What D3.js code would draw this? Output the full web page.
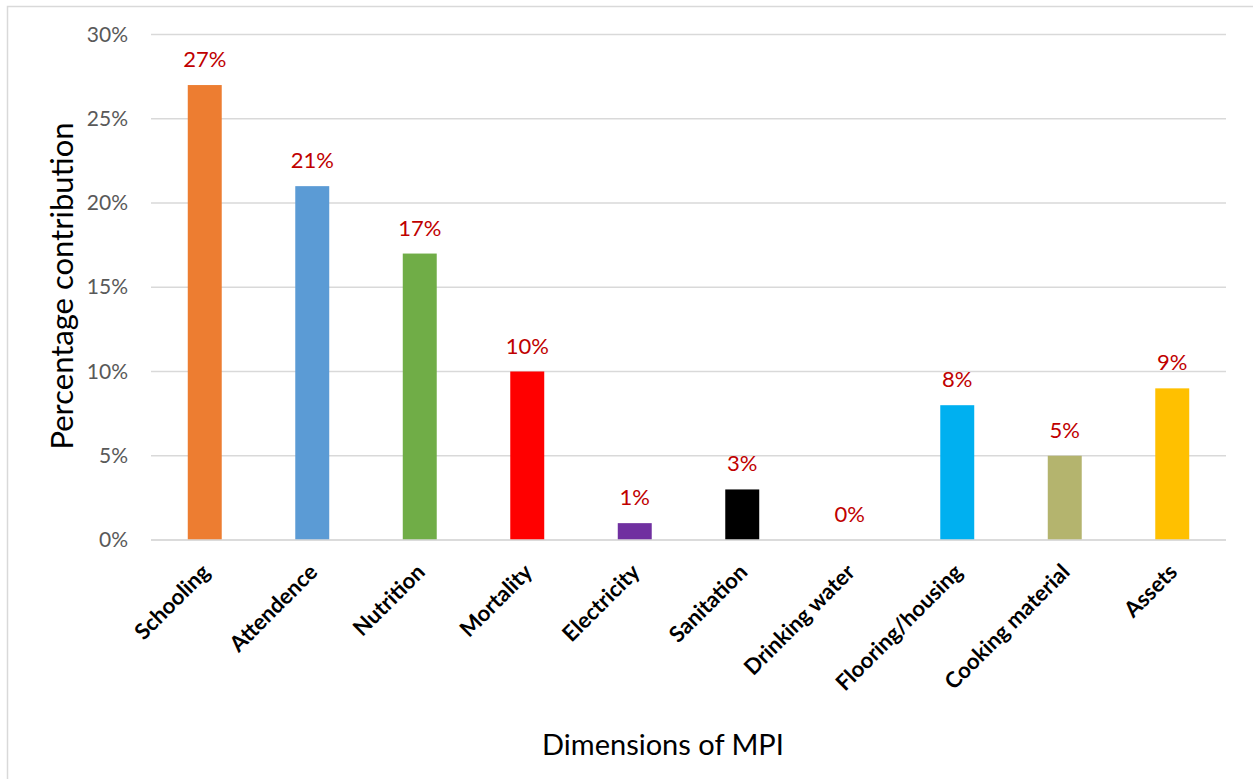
<!DOCTYPE html>
<html>
<head>
<meta charset="utf-8">
<script src="https://cdn.jsdelivr.net/npm/d3@7"></script>
<style>
  html, body { margin: 0; padding: 0; background: #fff; }
  svg { display: block; }
</style>
</head>
<body>
<svg id="chart" width="1253" height="779"></svg>
<script>
// MPI dimensions and their percentage contribution
const categories = ["Schooling", "Attendence", "Nutrition", "Mortality", "Electricity",
  "Sanitation", "Drinking water", "Flooring/housing", "Cooking material", "Assets"];
const values = [27, 21, 17, 10, 1, 3, 0, 8, 5, 9];
const barColors = ["#ED7D31", "#5B9BD5", "#70AD47", "#FF0000", "#7030A0",
  "#000000", "#4472C4", "#00B0F0", "#B4B46E", "#FFC000"];
const yTicks = [0, 5, 10, 15, 20, 25, 30];

const font = "Lato, 'Open Sans', sans-serif";
const svg = d3.select("#chart");

// frame around the chart
svg.append("rect")
  .attr("x", 7.5).attr("y", 6.5)
  .attr("width", 1260).attr("height", 800)
  .attr("fill", "none").attr("stroke", "#D9D9D9").attr("stroke-width", 1.5);

const plot = { left: 151, right: 1226, top: 34.5, bottom: 540 };

const x = d3.scaleBand()
  .domain(categories)
  .range([plot.left, plot.right])
  .paddingInner(0.684)
  .paddingOuter(0.342);

const y = d3.scaleLinear()
  .domain([0, 30])
  .range([plot.bottom, plot.top]);

// horizontal gridlines
svg.append("g")
  .selectAll("line")
  .data(yTicks)
  .join("line")
  .attr("x1", plot.left).attr("x2", plot.right)
  .attr("y1", d => y(d)).attr("y2", d => y(d))
  .attr("stroke", "#D9D9D9").attr("stroke-width", 1.5);

// y axis tick labels
const yAxis = svg.append("g")
  .attr("transform", `translate(${plot.left},0)`)
  .call(d3.axisLeft(y).tickValues(yTicks).tickSize(0).tickPadding(23)
    .tickFormat(d => d + "%"));
yAxis.select(".domain").remove();
yAxis.selectAll("text")
  .attr("font-family", font).attr("font-size", 21)
  .attr("fill", "#595959");

// bars
svg.append("g")
  .selectAll("rect")
  .data(categories)
  .join("rect")
  .attr("x", d => x(d))
  .attr("y", (d, i) => y(values[i]))
  .attr("width", x.bandwidth())
  .attr("height", (d, i) => y(0) - y(values[i]))
  .attr("fill", (d, i) => barColors[i]);

// value labels above the bars
svg.append("g")
  .selectAll("text")
  .data(categories)
  .join("text")
  .attr("x", d => x(d) + x.bandwidth() / 2)
  .attr("y", (d, i) => y(values[i]) - 18)
  .attr("text-anchor", "middle")
  .attr("font-family", font).attr("font-size", 22)
  .attr("fill", "#C00000")
  .text((d, i) => values[i] + "%");

// x axis baseline
svg.append("line")
  .attr("x1", plot.left).attr("x2", plot.right)
  .attr("y1", y(0)).attr("y2", y(0))
  .attr("stroke", "#D9D9D9").attr("stroke-width", 1.5);

// rotated category labels
const xAxis = svg.append("g")
  .attr("transform", `translate(0,${plot.bottom})`)
  .call(d3.axisBottom(x).tickSize(0).tickPadding(0));
xAxis.select(".domain").remove();
xAxis.selectAll("text")
  .attr("font-family", font).attr("font-size", 22).attr("font-weight", "bold")
  .attr("fill", "#000")
  .attr("text-anchor", "end")
  .attr("dy", "0.35em")
  .attr("transform", "translate(1,28) rotate(-45)");

// axis titles
svg.append("text")
  .attr("x", 663).attr("y", 755)
  .attr("text-anchor", "middle")
  .attr("font-family", font).attr("font-size", 29)
  .attr("fill", "#000")
  .text("Dimensions of MPI");

svg.append("text")
  .attr("transform", "translate(73,286) rotate(-90)")
  .attr("text-anchor", "middle")
  .attr("font-family", font).attr("font-size", 31)
  .attr("fill", "#000")
  .text("Percentage contribution");
</script>
</body>
</html>
